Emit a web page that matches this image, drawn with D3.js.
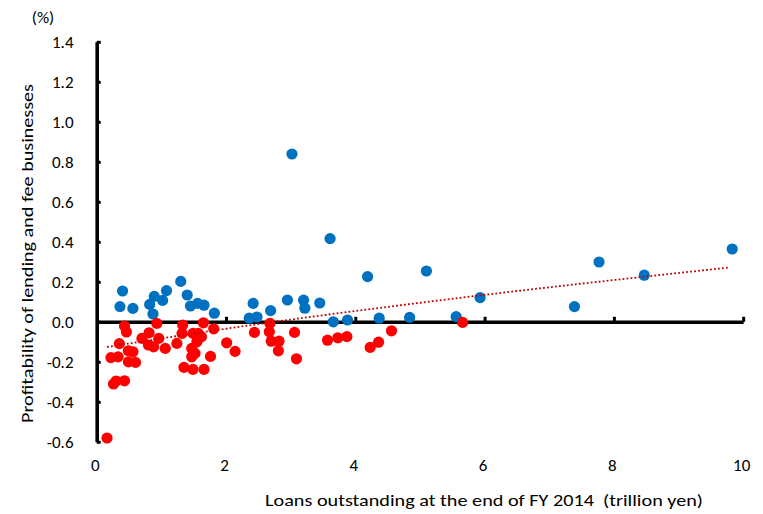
<!DOCTYPE html>
<html>
<head>
<meta charset="utf-8">
<script src="https://cdn.jsdelivr.net/npm/d3@7"></script>
<style>
  html, body { margin: 0; padding: 0; background: #fff; }
  svg { display: block; }
  text { font-family: Carlito, Calibri, Lato, sans-serif; fill: #000; white-space: pre; }
</style>
</head>
<body>
<svg id="chart" width="763" height="514"></svg>
<script>
// ---- Data ----
const blueX = [0.40, 0.36, 0.56, 0.82, 0.89, 0.87, 1.02, 1.08, 1.30, 1.40, 1.45, 1.56, 1.66, 1.82,
               2.36, 2.42, 2.48, 2.69, 2.95, 3.02, 3.20, 3.22, 3.45, 3.61, 3.66, 3.88, 4.19, 4.37,
               4.84, 5.10, 5.56, 5.93, 7.39, 7.77, 8.47, 9.83];
const blueY = [0.154, 0.076, 0.067, 0.087, 0.127, 0.039, 0.107, 0.156, 0.202, 0.134, 0.079, 0.092, 0.083, 0.043,
               0.018, 0.092, 0.024, 0.056, 0.109, 0.839, 0.108, 0.068, 0.094, 0.416, 0.000, 0.009, 0.226, 0.018,
               0.022, 0.254, 0.026, 0.121, 0.076, 0.299, 0.233, 0.364];

const redX = [0.16, 0.43, 0.46, 0.35, 0.22, 0.33, 0.49, 0.56, 0.49, 0.60, 0.26, 0.30, 0.43,
              0.70, 0.81, 0.80, 0.88, 0.93, 0.96, 1.06, 1.24, 1.33, 1.32, 1.49, 1.57, 1.65,
              1.81, 1.55, 1.47, 1.52, 1.47, 1.76, 1.62, 2.01, 2.14, 1.35, 1.49, 1.66,
              2.44, 2.68, 2.67, 2.70, 2.82, 2.81, 3.06, 3.09, 3.57, 3.73, 3.87, 4.23, 4.36, 4.56, 5.66];
const redY = [-0.581, -0.021, -0.051, -0.109, -0.179, -0.175, -0.145, -0.150, -0.200, -0.203, -0.311, -0.296, -0.295,
              -0.083, -0.055, -0.116, -0.125, -0.008, -0.083, -0.133, -0.108, -0.016, -0.058, -0.058, -0.058, -0.005,
              -0.035, -0.100, -0.133, -0.158, -0.175, -0.173, -0.075, -0.105, -0.148, -0.228, -0.238, -0.238,
              -0.053, -0.008, -0.050, -0.097, -0.097, -0.145, -0.053, -0.185, -0.092, -0.080, -0.074, -0.128, -0.102, -0.045, -0.003];

// trend line (dotted)
const trendX = [0.16, 2.14, 4.92, 9.77];
const trendY = [-0.126, -0.028, 0.092, 0.271];

const xTicks = [0, 2, 4, 6, 8, 10];
const yTicks = [-0.6, -0.4, -0.2, 0.0, 0.2, 0.4, 0.6, 0.8, 1.0, 1.2, 1.4];

const xTitle = "Loans outstanding at the end of FY 2014  (trillion yen)";
const yTitle = "Profitability of lending and fee businesses";
const unitLabel = "(%)";

// ---- Chart ----
const svg = d3.select("#chart");
const x = d3.scaleLinear().domain([0, 10]).range([96.7, 743.2]);
const y = d3.scaleLinear().domain([-0.6, 1.4]).range([441.8, 41.8]);

// y-axis ticks + line (ticks point inward/right)
const gy = svg.append("g").attr("transform", `translate(${x(0)},0)`)
  .call(d3.axisRight(y).tickValues(yTicks).tickSize(4).tickSizeOuter(0).tickFormat(""));
gy.select(".domain").attr("stroke", "#000").attr("stroke-width", 3.6);
gy.selectAll(".tick line").attr("stroke", "#000").attr("stroke-width", 3);

// y tick labels
const gyl = svg.append("g").attr("transform", `translate(73.5,0)`)
  .call(d3.axisLeft(y).tickValues(yTicks).tickSize(0).tickPadding(0).tickFormat(d => d.toFixed(1)));
gyl.select(".domain").remove();
gyl.selectAll("text").style("font-size", "17px").attr("font-family", null);

// x-axis at y = 0, ticks pointing up
const gx = svg.append("g").attr("transform", `translate(0,${y(0)})`)
  .call(d3.axisTop(x).tickValues(xTicks.filter(v => v > 0)).tickSize(5).tickSizeOuter(0).tickFormat(""));
gx.select(".domain").attr("stroke", "#000").attr("stroke-width", 3.6);
gx.selectAll(".tick line").attr("stroke", "#000").attr("stroke-width", 3);

// x tick labels at bottom
const gxl = svg.append("g").attr("transform", `translate(-2,459)`)
  .call(d3.axisBottom(x).tickValues(xTicks).tickSize(0).tickPadding(0).tickFormat(d => String(d)));
gxl.select(".domain").remove();
gxl.selectAll("text").style("font-size", "17px").attr("font-family", null);

// points
svg.append("g").selectAll("circle").data(d3.zip(blueX, blueY)).join("circle")
  .attr("cx", d => x(d[0])).attr("cy", d => y(d[1])).attr("r", 5.6).attr("fill", "#0070C0");
svg.append("g").selectAll("circle").data(d3.zip(redX, redY)).join("circle")
  .attr("cx", d => x(d[0])).attr("cy", d => y(d[1])).attr("r", 5.6).attr("fill", "#FF0000");

// trend line
svg.append("path").datum(d3.zip(trendX, trendY))
  .attr("d", d3.line().x(d => x(d[0])).y(d => y(d[1])).curve(d3.curveMonotoneX))
  .attr("fill", "none").attr("stroke", "#C00000").attr("stroke-width", 1.8)
  .attr("stroke-dasharray", "1.8,2.2");

// titles
svg.append("text").attr("x", 484).attr("y", 506).attr("text-anchor", "middle")
  .attr("textLength", 438).attr("lengthAdjust", "spacingAndGlyphs")
  .style("font-size", "17px").text(xTitle);
svg.append("text").attr("transform", "translate(33,253.5) rotate(-90)").attr("text-anchor", "middle")
  .attr("textLength", 339).attr("lengthAdjust", "spacingAndGlyphs")
  .style("font-size", "17px").text(yTitle);
svg.append("text").attr("x", 43).attr("y", 23).attr("text-anchor", "middle")
  .style("font-size", "17px").text(unitLabel);
</script>
</body>
</html>
